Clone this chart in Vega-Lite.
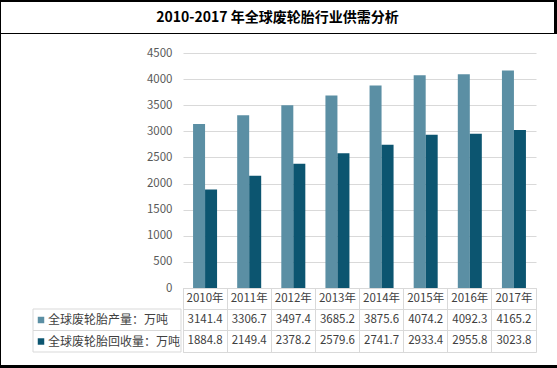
{
  "$schema": "https://vega.github.io/schema/vega-lite/v6.json",
  "background": "white",
  "padding": 0,
  "spacing": 0,
  "center": false,
  "resolve": {"scale": {"color": "independent"}, "legend": {"color": "independent"}},
  "datasets": {
    "main": [
      {"year": "2010年", "series": "全球废轮胎产量：万吨", "value": 3141.4},
      {"year": "2011年", "series": "全球废轮胎产量：万吨", "value": 3306.7},
      {"year": "2012年", "series": "全球废轮胎产量：万吨", "value": 3497.4},
      {"year": "2013年", "series": "全球废轮胎产量：万吨", "value": 3685.2},
      {"year": "2014年", "series": "全球废轮胎产量：万吨", "value": 3875.6},
      {"year": "2015年", "series": "全球废轮胎产量：万吨", "value": 4074.2},
      {"year": "2016年", "series": "全球废轮胎产量：万吨", "value": 4092.3},
      {"year": "2017年", "series": "全球废轮胎产量：万吨", "value": 4165.2},
      {"year": "2010年", "series": "全球废轮胎回收量：万吨", "value": 1884.8},
      {"year": "2011年", "series": "全球废轮胎回收量：万吨", "value": 2149.4},
      {"year": "2012年", "series": "全球废轮胎回收量：万吨", "value": 2378.2},
      {"year": "2013年", "series": "全球废轮胎回收量：万吨", "value": 2579.6},
      {"year": "2014年", "series": "全球废轮胎回收量：万吨", "value": 2741.7},
      {"year": "2015年", "series": "全球废轮胎回收量：万吨", "value": 2933.4},
      {"year": "2016年", "series": "全球废轮胎回收量：万吨", "value": 2955.8},
      {"year": "2017年", "series": "全球废轮胎回收量：万吨", "value": 3023.8}
    ],
    "series": [
      {"series": "全球废轮胎产量：万吨"},
      {"series": "全球废轮胎回收量：万吨"}
    ],
    "titles": [{"t": "2010-2017 年全球废轮胎行业供需分析"}],
    "one": [{}]
  },
  "vconcat": [
    {"width": 557, "height": 2, "data": {"name": "one"}, "mark": {"type": "rect", "color": "#000000"}, "encoding": {}},
    {
      "hconcat": [
        {"width": 1, "height": 31, "data": {"name": "one"}, "mark": {"type": "rect", "color": "#000000"}, "encoding": {}},
        {
          "width": 553, "height": 31,
          "layer": [
            {"data": {"name": "one"}, "mark": {"type": "rect", "opacity": 0}, "encoding": {}},
            {
              "data": {"name": "titles"},
              "mark": {"type": "text", "fontSize": 14, "fontWeight": "bold", "color": "#000000", "baseline": "middle", "align": "center"},
              "encoding": {"text": {"field": "t"}}
            }
          ]
        },
        {"width": 3, "height": 31, "data": {"name": "one"}, "mark": {"type": "rect", "color": "#000000"}, "encoding": {}}
      ],
      "spacing": 0,
      "center": false
    },
    {"width": 557, "height": 1, "data": {"name": "one"}, "mark": {"type": "rect", "color": "#000000"}, "encoding": {}},
    {
      "hconcat": [
        {"width": 1, "height": 331, "data": {"name": "one"}, "mark": {"type": "rect", "color": "#000000"}, "encoding": {}},
        {"width": 31, "height": 331, "data": {"name": "one"}, "mark": {"type": "rect", "opacity": 0}, "encoding": {}},
        {
          "vconcat": [
            {"width": 148, "height": 19, "data": {"name": "one"}, "mark": {"type": "rect", "opacity": 0}, "encoding": {}},
            {
              "width": 148, "height": 235,
              "layer": [
                {"data": {"name": "one"}, "mark": {"type": "rect", "opacity": 0}, "encoding": {}},
                {
                  "data": {"name": "main"},
                  "mark": {"type": "point", "opacity": 0},
                  "encoding": {
                    "y": {"field": "value", "type": "quantitative",
                      "scale": {"domain": [0, 4500]},
                      "axis": {"orient": "right", "offset": -9, "labelAlign": "right", "labelPadding": 0,
                        "values": [0, 500, 1000, 1500, 2000, 2500, 3000, 3500, 4000, 4500], "format": "d",
                        "ticks": false, "domain": false, "grid": false, "labelFlush": false,
                        "labelFontSize": 11.5, "labelColor": "#595959", "title": null}}
                  }
                }
              ]
            },
            {"width": 148, "height": 21, "data": {"name": "one"}, "mark": {"type": "rect", "opacity": 0}, "encoding": {}},
            {
              "width": 148, "height": 43,
              "data": {"name": "series"},
              "layer": [
                {
                  "mark": {"type": "rect", "fill": "white", "stroke": "#d9d9d9", "strokeWidth": 1},
                  "encoding": {
                    "y": {"field": "series", "type": "nominal", "sort": null,
                      "scale": {"type": "band", "paddingInner": 0, "paddingOuter": 0}, "axis": null}
                  }
                },
                {
                  "mark": {"type": "square", "filled": true, "opacity": 0},
                  "encoding": {
                    "y": {"field": "series", "type": "nominal", "sort": null},
                    "color": {"field": "series", "type": "nominal",
                      "scale": {"domain": ["全球废轮胎产量：万吨", "全球废轮胎回收量：万吨"], "range": ["#5B8FA4", "#0C5570"]},
                      "legend": {"orient": "none", "legendX": 2, "legendY": 5, "direction": "vertical",
                        "title": null, "symbolType": "square", "symbolSize": 42, "symbolStrokeWidth": 0, "symbolOpacity": 1,
                        "labelFontSize": 12, "labelColor": "#404040", "labelOffset": 1, "rowPadding": 9.5, "padding": 0}}
                  }
                }
              ]
            },
            {"width": 148, "height": 13, "data": {"name": "one"}, "mark": {"type": "rect", "opacity": 0}, "encoding": {}}
          ],
          "spacing": 0, "bounds": "flush",
          "resolve": {"scale": {"color": "independent"}, "legend": {"color": "independent"}}
        },
        {
          "vconcat": [
            {"width": 353, "height": 19, "data": {"name": "one"}, "mark": {"type": "rect", "opacity": 0}, "encoding": {}},
            {
              "width": 353, "height": 235,
              "layer": [
                {"data": {"name": "one"}, "mark": {"type": "rect", "opacity": 0}, "encoding": {}},
                {
                  "data": {"name": "main"},
                  "mark": {"type": "bar"},
                  "encoding": {
                    "x": {"field": "year", "type": "nominal", "sort": null,
                      "scale": {"paddingInner": 0.456, "paddingOuter": 0.228}, "axis": null},
                    "xOffset": {"field": "series", "type": "nominal", "sort": null, "scale": {"paddingInner": 0, "paddingOuter": 0}},
                    "y": {"field": "value", "type": "quantitative",
                      "scale": {"domain": [0, 4500]},
                      "axis": {"values": [0, 500, 1000, 1500, 2000, 2500, 3000, 3500, 4000, 4500],
                        "grid": true, "gridColor": "#d9d9d9", "domain": false, "ticks": false, "labels": false, "title": null}},
                    "color": {"field": "series", "type": "nominal",
                      "scale": {"domain": ["全球废轮胎产量：万吨", "全球废轮胎回收量：万吨"], "range": ["#5B8FA4", "#0C5570"]},
                      "legend": null}
                  }
                }
              ]
            },
            {
              "width": 353, "height": 64,
              "view": {"stroke": "#d9d9d9"},
              "layer": [
                {"data": {"name": "one"}, "mark": {"type": "rect", "opacity": 0}, "encoding": {}},
                {
                  "data": {"name": "main"},
                  "mark": {"type": "text", "fontSize": 11.5, "color": "#404040", "baseline": "middle"},
                  "encoding": {
                    "x": {"field": "year", "type": "nominal", "sort": null,
                      "scale": {"type": "band", "paddingInner": 0, "paddingOuter": 0},
                      "axis": {"orient": "top", "grid": true, "bandPosition": 0, "labels": false, "ticks": false, "domain": false, "gridColor": "#d9d9d9", "title": null}},
                    "y": {"field": "series", "type": "nominal",
                      "scale": {"type": "band", "domain": ["年份", "全球废轮胎产量：万吨", "全球废轮胎回收量：万吨"], "paddingInner": 0, "paddingOuter": 0},
                      "axis": {"grid": true, "bandPosition": 0, "labels": false, "ticks": false, "domain": false, "gridColor": "#d9d9d9", "title": null}},
                    "text": {"field": "value", "type": "quantitative", "format": ".1f"}
                  }
                },
                {
                  "data": {"name": "main"},
                  "transform": [{"filter": "datum.series === '全球废轮胎产量：万吨'"}],
                  "mark": {"type": "text", "fontSize": 11.5, "color": "#404040", "baseline": "middle"},
                  "encoding": {
                    "x": {"field": "year", "type": "nominal", "sort": null},
                    "y": {"datum": "年份", "type": "nominal"},
                    "text": {"field": "year"}
                  }
                }
              ]
            },
            {"width": 353, "height": 13, "data": {"name": "one"}, "mark": {"type": "rect", "opacity": 0}, "encoding": {}}
          ],
          "spacing": 0, "bounds": "flush",
          "resolve": {"scale": {"color": "independent"}, "legend": {"color": "independent"}}
        },
        {"width": 21, "height": 331, "data": {"name": "one"}, "mark": {"type": "rect", "opacity": 0}, "encoding": {}},
        {"width": 3, "height": 331, "data": {"name": "one"}, "mark": {"type": "rect", "color": "#000000"}, "encoding": {}}
      ],
      "spacing": 0,
      "center": false,
      "resolve": {"scale": {"color": "independent"}, "legend": {"color": "independent"}}
    },
    {"width": 557, "height": 3, "data": {"name": "one"}, "mark": {"type": "rect", "color": "#000000"}, "encoding": {}}
  ],
  "config": {
    "font": "Noto Sans CJK SC",
    "view": {"stroke": null}
  }
}
